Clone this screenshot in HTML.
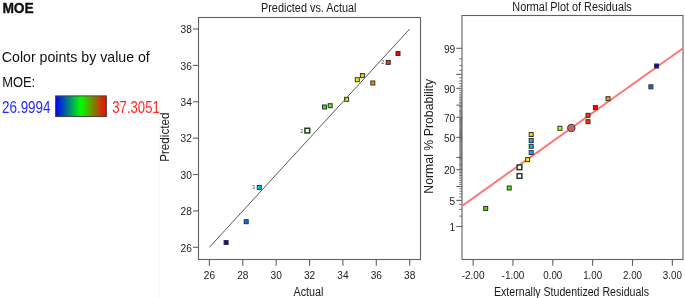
<!DOCTYPE html>
<html><head><meta charset="utf-8"><style>
html,body{margin:0;padding:0;background:#fff;}
svg{display:block;}
text{font-family:"Liberation Sans", Arial, sans-serif;}
.tk{font-size:11px;fill:#222;}
.tt{font-size:12.3px;fill:#1a1a1a;}
.lg{font-size:15px;fill:#111;}
.lb{font-size:5.6px;fill:#444;}
</style></head><body>
<svg width="685" height="298" viewBox="0 0 685 298">
<defs><linearGradient id="gr" x1="0" y1="0" x2="1" y2="0">
<stop offset="0" stop-color="#0000ff"/><stop offset="0.5" stop-color="#00ff00"/><stop offset="1" stop-color="#ff0000"/>
</linearGradient></defs>
<rect width="685" height="298" fill="#fff"/>
<path d="M0 117.5H159.5V298" fill="none" stroke="#f7f7f7" stroke-width="1"/>
<rect x="198.5" y="17.5" width="222.0" height="242.0" fill="none" stroke="#606060" stroke-width="1.1"/>
<line x1="193" y1="247.30" x2="198.5" y2="247.30" stroke="#606060" stroke-width="1.1"/>
<text x="191.9" y="251.50" text-anchor="end" class="tk" textLength="11.3" lengthAdjust="spacingAndGlyphs">26</text>
<line x1="209.40" y1="259.5" x2="209.40" y2="265.8" stroke="#606060" stroke-width="1.1"/>
<text x="209.40" y="279.3" text-anchor="middle" class="tk" textLength="11.3" lengthAdjust="spacingAndGlyphs">26</text>
<line x1="193" y1="210.92" x2="198.5" y2="210.92" stroke="#606060" stroke-width="1.1"/>
<text x="191.9" y="215.12" text-anchor="end" class="tk" textLength="11.3" lengthAdjust="spacingAndGlyphs">28</text>
<line x1="242.78" y1="259.5" x2="242.78" y2="265.8" stroke="#606060" stroke-width="1.1"/>
<text x="242.78" y="279.3" text-anchor="middle" class="tk" textLength="11.3" lengthAdjust="spacingAndGlyphs">28</text>
<line x1="193" y1="174.54" x2="198.5" y2="174.54" stroke="#606060" stroke-width="1.1"/>
<text x="191.9" y="178.74" text-anchor="end" class="tk" textLength="11.3" lengthAdjust="spacingAndGlyphs">30</text>
<line x1="276.16" y1="259.5" x2="276.16" y2="265.8" stroke="#606060" stroke-width="1.1"/>
<text x="276.16" y="279.3" text-anchor="middle" class="tk" textLength="11.3" lengthAdjust="spacingAndGlyphs">30</text>
<line x1="193" y1="138.16" x2="198.5" y2="138.16" stroke="#606060" stroke-width="1.1"/>
<text x="191.9" y="142.36" text-anchor="end" class="tk" textLength="11.3" lengthAdjust="spacingAndGlyphs">32</text>
<line x1="309.54" y1="259.5" x2="309.54" y2="265.8" stroke="#606060" stroke-width="1.1"/>
<text x="309.54" y="279.3" text-anchor="middle" class="tk" textLength="11.3" lengthAdjust="spacingAndGlyphs">32</text>
<line x1="193" y1="101.78" x2="198.5" y2="101.78" stroke="#606060" stroke-width="1.1"/>
<text x="191.9" y="105.98" text-anchor="end" class="tk" textLength="11.3" lengthAdjust="spacingAndGlyphs">34</text>
<line x1="342.92" y1="259.5" x2="342.92" y2="265.8" stroke="#606060" stroke-width="1.1"/>
<text x="342.92" y="279.3" text-anchor="middle" class="tk" textLength="11.3" lengthAdjust="spacingAndGlyphs">34</text>
<line x1="193" y1="65.40" x2="198.5" y2="65.40" stroke="#606060" stroke-width="1.1"/>
<text x="191.9" y="69.60" text-anchor="end" class="tk" textLength="11.3" lengthAdjust="spacingAndGlyphs">36</text>
<line x1="376.30" y1="259.5" x2="376.30" y2="265.8" stroke="#606060" stroke-width="1.1"/>
<text x="376.30" y="279.3" text-anchor="middle" class="tk" textLength="11.3" lengthAdjust="spacingAndGlyphs">36</text>
<line x1="193" y1="29.02" x2="198.5" y2="29.02" stroke="#606060" stroke-width="1.1"/>
<text x="191.9" y="33.22" text-anchor="end" class="tk" textLength="11.3" lengthAdjust="spacingAndGlyphs">38</text>
<line x1="409.68" y1="259.5" x2="409.68" y2="265.8" stroke="#606060" stroke-width="1.1"/>
<text x="409.68" y="279.3" text-anchor="middle" class="tk" textLength="11.3" lengthAdjust="spacingAndGlyphs">38</text>
<rect x="224.10" y="240.50" width="4.00" height="4.00" fill="#0000ff" stroke="#333" stroke-width="1"/>
<rect x="244.20" y="219.70" width="4.00" height="4.00" fill="#0070ff" stroke="#333" stroke-width="1"/>
<rect x="257.30" y="185.40" width="4.00" height="4.00" fill="#00c4ff" stroke="#333" stroke-width="1"/>
<rect x="322.50" y="105.00" width="4.00" height="4.00" fill="#3ee000" stroke="#333" stroke-width="1"/>
<rect x="328.20" y="103.70" width="4.00" height="4.00" fill="#66ee00" stroke="#333" stroke-width="1"/>
<rect x="344.60" y="97.30" width="4.00" height="4.00" fill="#ccff00" stroke="#333" stroke-width="1"/>
<rect x="355.30" y="77.70" width="4.00" height="4.00" fill="#ffee00" stroke="#333" stroke-width="1"/>
<rect x="360.40" y="73.60" width="4.00" height="4.00" fill="#ffcc00" stroke="#333" stroke-width="1"/>
<rect x="370.80" y="81.00" width="4.00" height="4.00" fill="#ff8800" stroke="#333" stroke-width="1"/>
<rect x="386.20" y="60.40" width="4.00" height="4.00" fill="#ff3300" stroke="#333" stroke-width="1"/>
<rect x="396.00" y="51.50" width="4.00" height="4.00" fill="#ff0000" stroke="#333" stroke-width="1"/>
<rect x="304.95" y="128.25" width="4.7" height="4.7" fill="#fff" stroke="#203a20" stroke-width="1.5"/>
<line x1="209.40" y1="247.30" x2="409.68" y2="29.02" stroke="#5a5a5a" stroke-width="1"/>
<text x="300.3" y="132.6" class="lb">2</text>
<text x="252.0" y="188.8" class="lb">3</text>
<text x="381.2" y="63.8" class="lb">2</text>
<rect x="462.0" y="15.5" width="221.0" height="244.0" fill="none" stroke="#606060" stroke-width="1.1"/>
<line x1="456.3" y1="226.50" x2="462.0" y2="226.50" stroke="#606060" stroke-width="1.1"/>
<text x="455.2" y="231.00" text-anchor="end" class="tk" textLength="5.6" lengthAdjust="spacingAndGlyphs">1</text>
<line x1="459.3" y1="216.06" x2="462.0" y2="216.06" stroke="#606060" stroke-width="0.9"/>
<line x1="459.3" y1="209.43" x2="462.0" y2="209.43" stroke="#606060" stroke-width="0.9"/>
<line x1="459.3" y1="204.45" x2="462.0" y2="204.45" stroke="#606060" stroke-width="0.9"/>
<line x1="456.3" y1="200.40" x2="462.0" y2="200.40" stroke="#606060" stroke-width="1.1"/>
<text x="455.2" y="204.90" text-anchor="end" class="tk" textLength="5.6" lengthAdjust="spacingAndGlyphs">5</text>
<line x1="459.3" y1="196.95" x2="462.0" y2="196.95" stroke="#606060" stroke-width="0.9"/>
<line x1="459.3" y1="193.92" x2="462.0" y2="193.92" stroke="#606060" stroke-width="0.9"/>
<line x1="459.3" y1="191.21" x2="462.0" y2="191.21" stroke="#606060" stroke-width="0.9"/>
<line x1="459.3" y1="188.75" x2="462.0" y2="188.75" stroke="#606060" stroke-width="0.9"/>
<line x1="456.3" y1="186.48" x2="462.0" y2="186.48" stroke="#606060" stroke-width="1.1"/>
<line x1="459.3" y1="184.38" x2="462.0" y2="184.38" stroke="#606060" stroke-width="0.9"/>
<line x1="459.3" y1="182.40" x2="462.0" y2="182.40" stroke="#606060" stroke-width="0.9"/>
<line x1="459.3" y1="180.54" x2="462.0" y2="180.54" stroke="#606060" stroke-width="0.9"/>
<line x1="459.3" y1="178.78" x2="462.0" y2="178.78" stroke="#606060" stroke-width="0.9"/>
<line x1="459.3" y1="177.10" x2="462.0" y2="177.10" stroke="#606060" stroke-width="0.9"/>
<line x1="459.3" y1="175.49" x2="462.0" y2="175.49" stroke="#606060" stroke-width="0.9"/>
<line x1="459.3" y1="173.94" x2="462.0" y2="173.94" stroke="#606060" stroke-width="0.9"/>
<line x1="459.3" y1="172.46" x2="462.0" y2="172.46" stroke="#606060" stroke-width="0.9"/>
<line x1="459.3" y1="171.02" x2="462.0" y2="171.02" stroke="#606060" stroke-width="0.9"/>
<line x1="456.3" y1="169.63" x2="462.0" y2="169.63" stroke="#606060" stroke-width="1.1"/>
<text x="455.2" y="174.13" text-anchor="end" class="tk" textLength="11.3" lengthAdjust="spacingAndGlyphs">20</text>
<line x1="459.3" y1="168.29" x2="462.0" y2="168.29" stroke="#606060" stroke-width="0.9"/>
<line x1="459.3" y1="166.98" x2="462.0" y2="166.98" stroke="#606060" stroke-width="0.9"/>
<line x1="459.3" y1="165.70" x2="462.0" y2="165.70" stroke="#606060" stroke-width="0.9"/>
<line x1="459.3" y1="164.45" x2="462.0" y2="164.45" stroke="#606060" stroke-width="0.9"/>
<line x1="459.3" y1="163.23" x2="462.0" y2="163.23" stroke="#606060" stroke-width="0.9"/>
<line x1="459.3" y1="162.04" x2="462.0" y2="162.04" stroke="#606060" stroke-width="0.9"/>
<line x1="459.3" y1="160.87" x2="462.0" y2="160.87" stroke="#606060" stroke-width="0.9"/>
<line x1="459.3" y1="159.72" x2="462.0" y2="159.72" stroke="#606060" stroke-width="0.9"/>
<line x1="459.3" y1="158.59" x2="462.0" y2="158.59" stroke="#606060" stroke-width="0.9"/>
<line x1="456.3" y1="157.48" x2="462.0" y2="157.48" stroke="#606060" stroke-width="1.1"/>
<line x1="459.3" y1="156.39" x2="462.0" y2="156.39" stroke="#606060" stroke-width="0.9"/>
<line x1="459.3" y1="155.31" x2="462.0" y2="155.31" stroke="#606060" stroke-width="0.9"/>
<line x1="459.3" y1="154.25" x2="462.0" y2="154.25" stroke="#606060" stroke-width="0.9"/>
<line x1="459.3" y1="153.20" x2="462.0" y2="153.20" stroke="#606060" stroke-width="0.9"/>
<line x1="459.3" y1="152.16" x2="462.0" y2="152.16" stroke="#606060" stroke-width="0.9"/>
<line x1="459.3" y1="151.13" x2="462.0" y2="151.13" stroke="#606060" stroke-width="0.9"/>
<line x1="459.3" y1="150.11" x2="462.0" y2="150.11" stroke="#606060" stroke-width="0.9"/>
<line x1="459.3" y1="149.10" x2="462.0" y2="149.10" stroke="#606060" stroke-width="0.9"/>
<line x1="459.3" y1="148.10" x2="462.0" y2="148.10" stroke="#606060" stroke-width="0.9"/>
<line x1="459.3" y1="147.10" x2="462.0" y2="147.10" stroke="#606060" stroke-width="0.9"/>
<line x1="459.3" y1="146.11" x2="462.0" y2="146.11" stroke="#606060" stroke-width="0.9"/>
<line x1="459.3" y1="145.13" x2="462.0" y2="145.13" stroke="#606060" stroke-width="0.9"/>
<line x1="459.3" y1="144.16" x2="462.0" y2="144.16" stroke="#606060" stroke-width="0.9"/>
<line x1="459.3" y1="143.18" x2="462.0" y2="143.18" stroke="#606060" stroke-width="0.9"/>
<line x1="459.3" y1="142.21" x2="462.0" y2="142.21" stroke="#606060" stroke-width="0.9"/>
<line x1="459.3" y1="141.25" x2="462.0" y2="141.25" stroke="#606060" stroke-width="0.9"/>
<line x1="459.3" y1="140.28" x2="462.0" y2="140.28" stroke="#606060" stroke-width="0.9"/>
<line x1="459.3" y1="139.32" x2="462.0" y2="139.32" stroke="#606060" stroke-width="0.9"/>
<line x1="459.3" y1="138.36" x2="462.0" y2="138.36" stroke="#606060" stroke-width="0.9"/>
<line x1="456.3" y1="137.40" x2="462.0" y2="137.40" stroke="#606060" stroke-width="1.1"/>
<text x="455.2" y="141.90" text-anchor="end" class="tk" textLength="11.3" lengthAdjust="spacingAndGlyphs">50</text>
<line x1="459.3" y1="136.44" x2="462.0" y2="136.44" stroke="#606060" stroke-width="0.9"/>
<line x1="459.3" y1="135.48" x2="462.0" y2="135.48" stroke="#606060" stroke-width="0.9"/>
<line x1="459.3" y1="134.52" x2="462.0" y2="134.52" stroke="#606060" stroke-width="0.9"/>
<line x1="459.3" y1="133.55" x2="462.0" y2="133.55" stroke="#606060" stroke-width="0.9"/>
<line x1="459.3" y1="132.59" x2="462.0" y2="132.59" stroke="#606060" stroke-width="0.9"/>
<line x1="459.3" y1="131.62" x2="462.0" y2="131.62" stroke="#606060" stroke-width="0.9"/>
<line x1="459.3" y1="130.64" x2="462.0" y2="130.64" stroke="#606060" stroke-width="0.9"/>
<line x1="459.3" y1="129.67" x2="462.0" y2="129.67" stroke="#606060" stroke-width="0.9"/>
<line x1="459.3" y1="128.69" x2="462.0" y2="128.69" stroke="#606060" stroke-width="0.9"/>
<line x1="459.3" y1="127.70" x2="462.0" y2="127.70" stroke="#606060" stroke-width="0.9"/>
<line x1="459.3" y1="126.70" x2="462.0" y2="126.70" stroke="#606060" stroke-width="0.9"/>
<line x1="459.3" y1="125.70" x2="462.0" y2="125.70" stroke="#606060" stroke-width="0.9"/>
<line x1="459.3" y1="124.69" x2="462.0" y2="124.69" stroke="#606060" stroke-width="0.9"/>
<line x1="459.3" y1="123.67" x2="462.0" y2="123.67" stroke="#606060" stroke-width="0.9"/>
<line x1="459.3" y1="122.64" x2="462.0" y2="122.64" stroke="#606060" stroke-width="0.9"/>
<line x1="459.3" y1="121.60" x2="462.0" y2="121.60" stroke="#606060" stroke-width="0.9"/>
<line x1="459.3" y1="120.55" x2="462.0" y2="120.55" stroke="#606060" stroke-width="0.9"/>
<line x1="459.3" y1="119.49" x2="462.0" y2="119.49" stroke="#606060" stroke-width="0.9"/>
<line x1="459.3" y1="118.41" x2="462.0" y2="118.41" stroke="#606060" stroke-width="0.9"/>
<line x1="456.3" y1="117.32" x2="462.0" y2="117.32" stroke="#606060" stroke-width="1.1"/>
<text x="455.2" y="121.82" text-anchor="end" class="tk" textLength="11.3" lengthAdjust="spacingAndGlyphs">70</text>
<line x1="459.3" y1="116.21" x2="462.0" y2="116.21" stroke="#606060" stroke-width="0.9"/>
<line x1="459.3" y1="115.08" x2="462.0" y2="115.08" stroke="#606060" stroke-width="0.9"/>
<line x1="459.3" y1="113.93" x2="462.0" y2="113.93" stroke="#606060" stroke-width="0.9"/>
<line x1="459.3" y1="112.76" x2="462.0" y2="112.76" stroke="#606060" stroke-width="0.9"/>
<line x1="459.3" y1="111.57" x2="462.0" y2="111.57" stroke="#606060" stroke-width="0.9"/>
<line x1="459.3" y1="110.35" x2="462.0" y2="110.35" stroke="#606060" stroke-width="0.9"/>
<line x1="459.3" y1="109.10" x2="462.0" y2="109.10" stroke="#606060" stroke-width="0.9"/>
<line x1="459.3" y1="107.82" x2="462.0" y2="107.82" stroke="#606060" stroke-width="0.9"/>
<line x1="459.3" y1="106.51" x2="462.0" y2="106.51" stroke="#606060" stroke-width="0.9"/>
<line x1="456.3" y1="105.17" x2="462.0" y2="105.17" stroke="#606060" stroke-width="1.1"/>
<line x1="459.3" y1="103.78" x2="462.0" y2="103.78" stroke="#606060" stroke-width="0.9"/>
<line x1="459.3" y1="102.34" x2="462.0" y2="102.34" stroke="#606060" stroke-width="0.9"/>
<line x1="459.3" y1="100.86" x2="462.0" y2="100.86" stroke="#606060" stroke-width="0.9"/>
<line x1="459.3" y1="99.31" x2="462.0" y2="99.31" stroke="#606060" stroke-width="0.9"/>
<line x1="459.3" y1="97.70" x2="462.0" y2="97.70" stroke="#606060" stroke-width="0.9"/>
<line x1="459.3" y1="96.02" x2="462.0" y2="96.02" stroke="#606060" stroke-width="0.9"/>
<line x1="459.3" y1="94.26" x2="462.0" y2="94.26" stroke="#606060" stroke-width="0.9"/>
<line x1="459.3" y1="92.40" x2="462.0" y2="92.40" stroke="#606060" stroke-width="0.9"/>
<line x1="459.3" y1="90.42" x2="462.0" y2="90.42" stroke="#606060" stroke-width="0.9"/>
<line x1="456.3" y1="88.32" x2="462.0" y2="88.32" stroke="#606060" stroke-width="1.1"/>
<text x="455.2" y="92.82" text-anchor="end" class="tk" textLength="11.3" lengthAdjust="spacingAndGlyphs">90</text>
<line x1="459.3" y1="86.05" x2="462.0" y2="86.05" stroke="#606060" stroke-width="0.9"/>
<line x1="459.3" y1="83.59" x2="462.0" y2="83.59" stroke="#606060" stroke-width="0.9"/>
<line x1="459.3" y1="80.88" x2="462.0" y2="80.88" stroke="#606060" stroke-width="0.9"/>
<line x1="459.3" y1="77.85" x2="462.0" y2="77.85" stroke="#606060" stroke-width="0.9"/>
<line x1="456.3" y1="74.40" x2="462.0" y2="74.40" stroke="#606060" stroke-width="1.1"/>
<line x1="459.3" y1="70.35" x2="462.0" y2="70.35" stroke="#606060" stroke-width="0.9"/>
<line x1="459.3" y1="65.37" x2="462.0" y2="65.37" stroke="#606060" stroke-width="0.9"/>
<line x1="459.3" y1="58.74" x2="462.0" y2="58.74" stroke="#606060" stroke-width="0.9"/>
<line x1="456.3" y1="48.30" x2="462.0" y2="48.30" stroke="#606060" stroke-width="1.1"/>
<text x="455.2" y="52.80" text-anchor="end" class="tk" textLength="11.3" lengthAdjust="spacingAndGlyphs">99</text>
<line x1="473.10" y1="259.5" x2="473.10" y2="265.8" stroke="#606060" stroke-width="1.1"/>
<text x="473.10" y="279.3" text-anchor="middle" class="tk" textLength="22.8" lengthAdjust="spacingAndGlyphs">-2.00</text>
<line x1="512.95" y1="259.5" x2="512.95" y2="265.8" stroke="#606060" stroke-width="1.1"/>
<text x="512.95" y="279.3" text-anchor="middle" class="tk" textLength="22.8" lengthAdjust="spacingAndGlyphs">-1.00</text>
<line x1="552.80" y1="259.5" x2="552.80" y2="265.8" stroke="#606060" stroke-width="1.1"/>
<text x="552.80" y="279.3" text-anchor="middle" class="tk" textLength="19.0" lengthAdjust="spacingAndGlyphs">0.00</text>
<line x1="592.65" y1="259.5" x2="592.65" y2="265.8" stroke="#606060" stroke-width="1.1"/>
<text x="592.65" y="279.3" text-anchor="middle" class="tk" textLength="19.0" lengthAdjust="spacingAndGlyphs">1.00</text>
<line x1="632.50" y1="259.5" x2="632.50" y2="265.8" stroke="#606060" stroke-width="1.1"/>
<text x="632.50" y="279.3" text-anchor="middle" class="tk" textLength="19.0" lengthAdjust="spacingAndGlyphs">2.00</text>
<line x1="672.35" y1="259.5" x2="672.35" y2="265.8" stroke="#606060" stroke-width="1.1"/>
<text x="672.35" y="279.3" text-anchor="middle" class="tk" textLength="19.0" lengthAdjust="spacingAndGlyphs">3.00</text>
<line x1="462" y1="206.0" x2="683" y2="48.2" stroke="#ff7676" stroke-width="2"/>
<rect x="483.70" y="206.50" width="4.00" height="4.00" fill="#3ee000" stroke="#333" stroke-width="1"/>
<rect x="507.20" y="186.00" width="4.00" height="4.00" fill="#55ee00" stroke="#333" stroke-width="1"/>
<rect x="525.60" y="157.60" width="4.00" height="4.00" fill="#ffee00" stroke="#333" stroke-width="1"/>
<rect x="529.20" y="150.60" width="4.00" height="4.00" fill="#00b4ff" stroke="#333" stroke-width="1"/>
<rect x="529.20" y="144.30" width="4.00" height="4.00" fill="#00b4ff" stroke="#333" stroke-width="1"/>
<rect x="529.20" y="138.50" width="4.00" height="4.00" fill="#00b4ff" stroke="#333" stroke-width="1"/>
<rect x="529.20" y="132.50" width="4.00" height="4.00" fill="#ffcc00" stroke="#333" stroke-width="1"/>
<rect x="557.90" y="126.30" width="4.00" height="4.00" fill="#ccff00" stroke="#333" stroke-width="1"/>
<rect x="586.00" y="119.70" width="4.00" height="4.00" fill="#ff3300" stroke="#333" stroke-width="1"/>
<rect x="586.00" y="113.30" width="4.00" height="4.00" fill="#ff3300" stroke="#333" stroke-width="1"/>
<rect x="593.40" y="105.60" width="4.00" height="4.00" fill="#ff0000" stroke="#333" stroke-width="1"/>
<rect x="606.00" y="96.70" width="4.00" height="4.00" fill="#ff9900" stroke="#333" stroke-width="1"/>
<rect x="648.90" y="84.80" width="4.00" height="4.00" fill="#0070ff" stroke="#333" stroke-width="1"/>
<rect x="654.60" y="64.00" width="4.00" height="4.00" fill="#0000ff" stroke="#333" stroke-width="1"/>
<rect x="517.15" y="164.95" width="4.7" height="4.7" fill="#fff" stroke="#203a20" stroke-width="1.5"/>
<rect x="517.15" y="173.65" width="4.7" height="4.7" fill="#fff" stroke="#203a20" stroke-width="1.5"/>
<circle cx="571.3" cy="128.0" r="3.8" fill="#c86464" stroke="#444" stroke-width="1"/>
<text x="261" y="12.3" class="tt" textLength="95.5" lengthAdjust="spacingAndGlyphs">Predicted vs. Actual</text>
<text x="512.3" y="10.9" class="tt" textLength="119.5" lengthAdjust="spacingAndGlyphs">Normal Plot of Residuals</text>
<text x="293.5" y="296.1" class="tt" textLength="30" lengthAdjust="spacingAndGlyphs">Actual</text>
<text x="494" y="296.3" class="tt" textLength="155" lengthAdjust="spacingAndGlyphs">Externally Studentized Residuals</text>
<text transform="translate(432.7,193.7) rotate(-90)" x="0" y="0" class="tt" textLength="114.8" lengthAdjust="spacingAndGlyphs">Normal % Probability</text>
<text transform="translate(169.2,161.8) rotate(-90)" x="0" y="0" class="tt" textLength="49.3" lengthAdjust="spacingAndGlyphs">Predicted</text>
<text x="2.4" y="13.2" class="lg" style="font-size:14.6px;font-weight:bold;stroke:#111;stroke-width:0.35px" textLength="31.4" lengthAdjust="spacingAndGlyphs">MOE</text>
<text x="1.8" y="62.2" class="lg" textLength="148" lengthAdjust="spacingAndGlyphs">Color points by value of</text>
<text x="2.2" y="86.7" class="lg" textLength="33" lengthAdjust="spacingAndGlyphs">MOE:</text>
<text x="2" y="112.5" class="lg" style="fill:#2828ff;font-size:15.6px" textLength="48.5" lengthAdjust="spacingAndGlyphs">26.9994</text>
<text x="112.3" y="112.5" class="lg" style="fill:#ff2424;font-size:15.6px" textLength="47.5" lengthAdjust="spacingAndGlyphs">37.3051</text>
<rect x="55.6" y="95.9" width="50.8" height="20.6" fill="url(#gr)" stroke="#444" stroke-width="1"/>
</svg>
</body></html>
